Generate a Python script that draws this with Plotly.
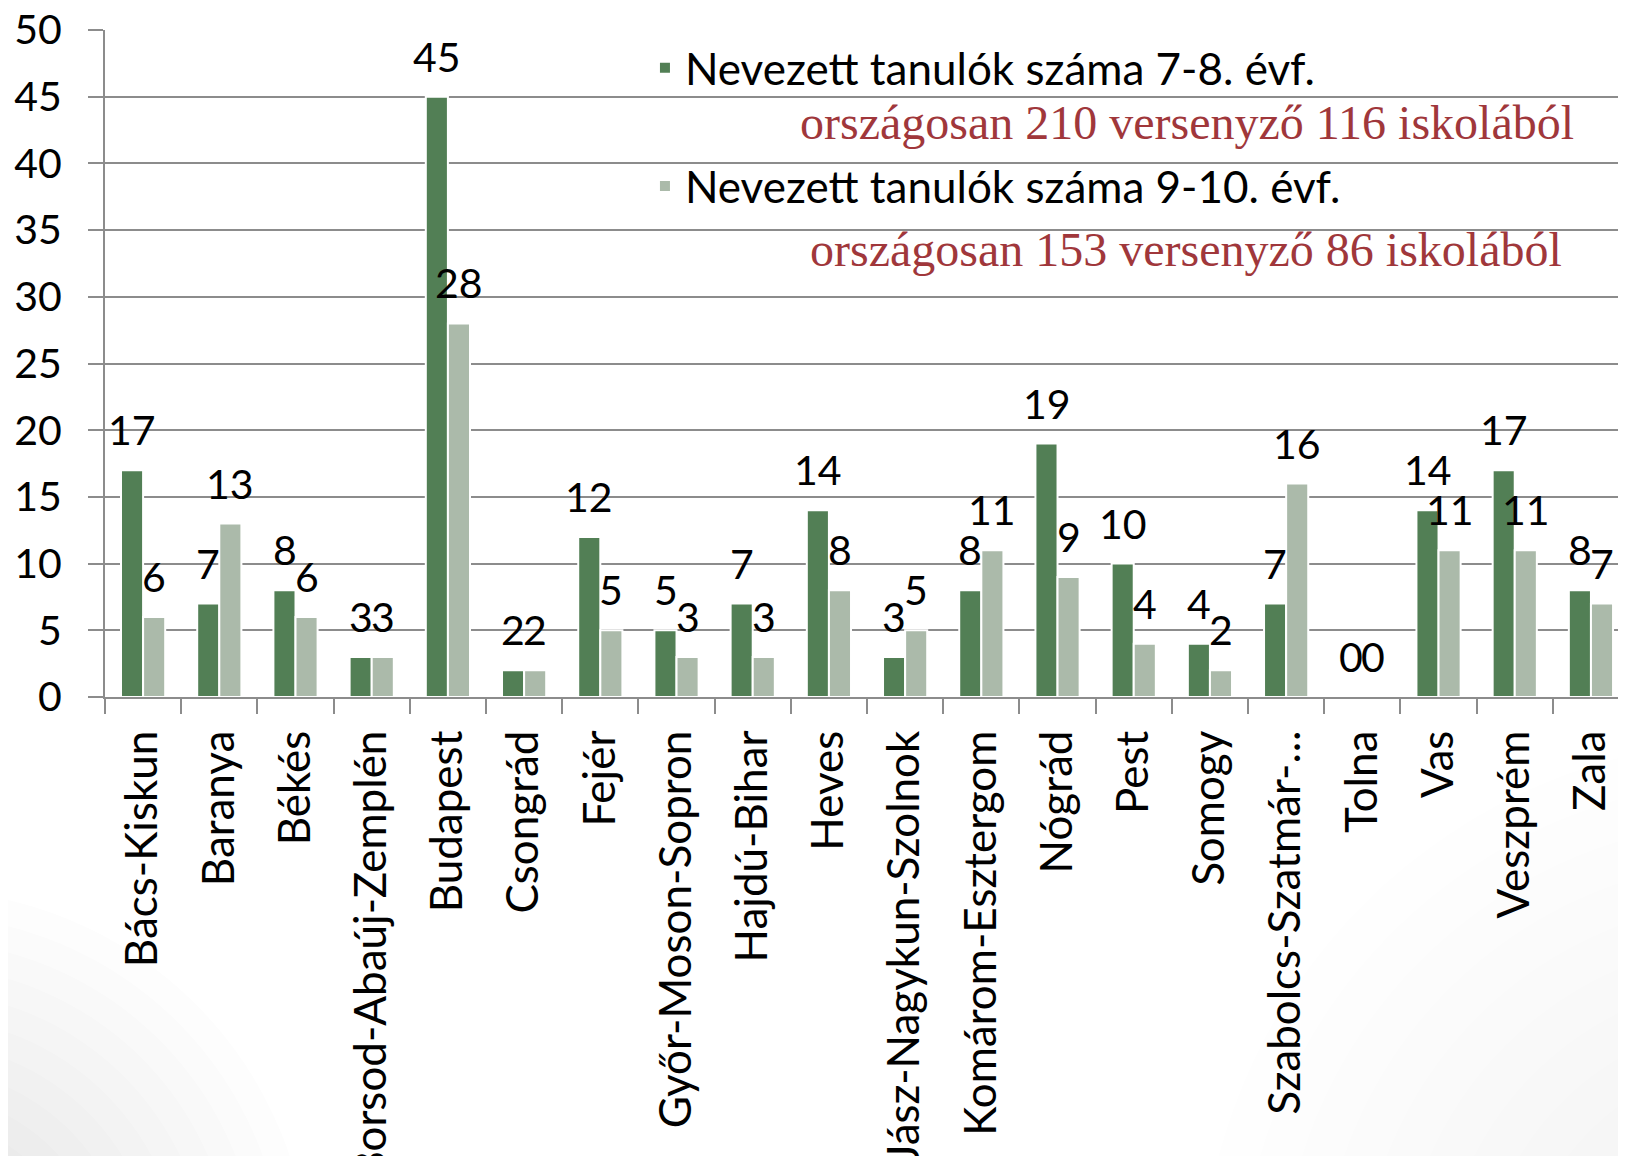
import plotly.graph_objects as go

categories = ["Bács-Kiskun", "Baranya", "Békés", "Borsod-Abaúj-Zemplén", "Budapest",
              "Csongrád", "Fejér", "Győr-Moson-Sopron", "Hajdú-Bihar", "Heves",
              "Jász-Nagykun-Szolnok", "Komárom-Esztergom", "Nógrád", "Pest", "Somogy",
              "Szabolcs-Szatmár-…", "Tolna", "Vas", "Veszprém", "Zala"]
grade_7_8 = [17, 7, 8, 3, 45, 2, 12, 5, 7, 14, 3, 8, 19, 10, 4, 7, 0, 14, 17, 8]
grade_9_10 = [6, 13, 6, 3, 28, 2, 5, 3, 3, 8, 5, 11, 9, 4, 2, 16, 0, 11, 11, 7]
series_names = ["Nevezett tanulók száma 7-8. évf.", "Nevezett tanulók száma 9-10. évf."]
notes = ["országosan 210 versenyző 116 iskolából", "országosan 153 versenyző 86 iskolából"]
yticks = [0, 5, 10, 15, 20, 25, 30, 35, 40, 45, 50]

DARK = "#527F55"
LIGHT = "#ABBAAA"
GRID = "#8C8C8C"
RED = "#A0373B"
FONT = "Lato"
FS_NUM = 41
FS_TXT = 44

fig = go.Figure()
fig.add_trace(go.Bar(x=categories, y=grade_7_8, name=series_names[0], legendgroup="a",
                     marker=dict(color=DARK, line=dict(color="white", width=2))))
fig.add_trace(go.Bar(x=categories, y=grade_9_10, name=series_names[1], legendgroup="b",
                     marker=dict(color=LIGHT, line=dict(color="white", width=2))))

ann = []
for c, v in zip(categories, grade_7_8):
    ann.append(dict(x=c, y=v, text=str(v), showarrow=False, xref="x", yref="y",
                    xshift=-11, yshift=14, yanchor="bottom",
                    font=dict(family=FONT, size=FS_NUM, color="black")))
for c, v in zip(categories, grade_9_10):
    ann.append(dict(x=c, y=v, text=str(v), showarrow=False, xref="x", yref="y",
                    xshift=11, yshift=14, yanchor="bottom",
                    font=dict(family=FONT, size=FS_NUM, color="black")))
ann.append(dict(x=0.967, y=0.862, xref="paper", yref="paper", text=notes[0], showarrow=False,
                xanchor="right", yanchor="middle",
                font=dict(family="Liberation Serif", size=48, color=RED)))
ann.append(dict(x=0.959, y=0.671, xref="paper", yref="paper", text=notes[1], showarrow=False,
                xanchor="right", yanchor="middle",
                font=dict(family="Liberation Serif", size=48, color=RED)))

# subtle slide-background shading in the bottom corners (paper coordinates)
PX0, PY0, PW, PH = 105, 697, 1521, 667
def px2paper(px, py):
    return (px - PX0) / PW, (PY0 - py) / PH

shapes = []
corner_specs = [(-80, 1280, 390, 110, 12, 0.012), (1760, 1300, 560, 200, 10, 0.009)]
for cx, cy, rmax, rmin, n, alpha in corner_specs:
    for i in range(n):
        r = rmax - (rmax - rmin) * i / (n - 1)
        x0, y0 = px2paper(cx - r, cy + r)
        x1, y1 = px2paper(cx + r, cy - r)
        shapes.append(dict(type="circle", xref="paper", yref="paper",
                           x0=x0, y0=y0, x1=x1, y1=y1, layer="below",
                           line=dict(width=0), fillcolor=f"rgba(120,120,120,{alpha})"))

fig.update_layout(
    width=1618, height=1148,
    margin=dict(l=97, r=0, t=22, b=459),
    paper_bgcolor="white", plot_bgcolor="rgba(0,0,0,0)",
    barmode="group", bargap=0.42, bargroupgap=0,
    font=dict(family=FONT, size=FS_TXT, color="black"),
    annotations=ann, shapes=shapes,
    legend=dict(x=0.355, y=0.996, xanchor="left", yanchor="top",
                bgcolor="rgba(0,0,0,0)", tracegroupgap=58,
                traceorder="grouped", font=dict(family=FONT, size=FS_TXT)),
    showlegend=True,
)
fig.update_yaxes(range=[0, 50], tickvals=yticks, showgrid=True, gridcolor=GRID, gridwidth=2,
                 showline=True, linecolor=GRID, linewidth=2, ticks="outside", ticklen=15,
                 tickcolor=GRID, tickwidth=2, ticklabelstandoff=18, zeroline=False,
                 ticklabeloverflow="allow", automargin=False,
                 tickfont=dict(family=FONT, size=FS_NUM))
fig.update_xaxes(range=[-0.5, 19.46], showline=True, linecolor=GRID, linewidth=2,
                 ticks="outside", ticklen=15, tickcolor=GRID, tickwidth=2,
                 tickson="boundaries", tickangle=-90, ticklabelstandoff=14,
                 ticklabeloverflow="allow", automargin=False, showgrid=False,
                 tickfont=dict(family=FONT, size=FS_TXT))

fig.write_html("out.html")
